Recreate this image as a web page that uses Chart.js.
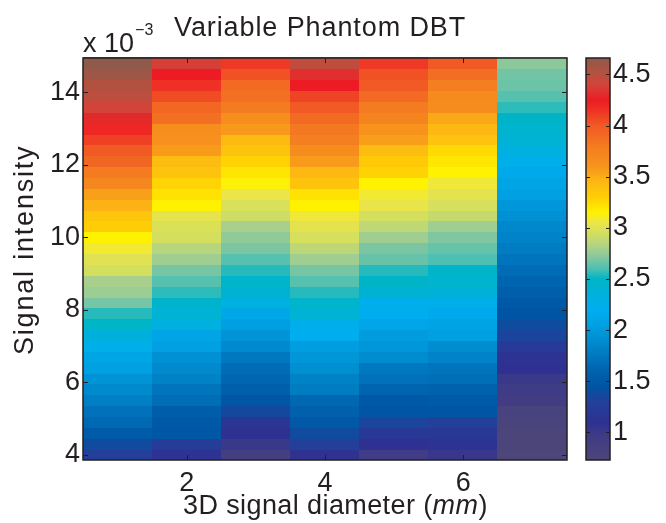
<!DOCTYPE html>
<html>
<head>
<meta charset="utf-8">
<title>Variable Phantom DBT</title>
<script src="https://cdn.jsdelivr.net/npm/chart.js@4.4.0/dist/chart.umd.min.js"></script>
<style>
  body { margin: 0; background: #fff; }
  #wrap { position: relative; width: 666px; height: 523px; }
  #wrap canvas { position: absolute; top: 0; }
</style>
</head>
<body>
<div id="wrap">
  <canvas id="map" width="648" height="523" style="left:0"></canvas>
  <canvas id="cbar" width="106" height="523" style="left:560px"></canvas>
</div>
<script>
// signal diameter (mm) and signal intensity (x 10^-3), bottom row first
const diameters = [1, 2, 3, 4, 5, 6, 7];
const intensity = [4.0, 4.3, 4.6, 4.9, 5.2, 5.5, 5.8, 6.1, 6.4, 6.7, 7.0, 7.3, 7.6,
  7.9, 8.2, 8.5, 8.8, 9.1, 9.4, 9.7, 10.0, 10.3, 10.6, 10.9, 11.2, 11.5, 11.8,
  12.1, 12.4, 12.7, 13.0, 13.3, 13.6, 13.9, 14.2, 14.5, 14.8];

// detectability per diameter, same row order as intensity
const d1 = [1.28, 1.38, 1.53, 1.65, 1.7, 1.8, 1.88, 1.95, 2.05, 2.1, 2.25, 2.35, 2.5,
  2.55, 2.68, 2.77, 2.8, 2.95, 3.0, 3.08, 3.15, 3.3, 3.35, 3.48, 3.55, 3.7, 3.8,
  3.93, 4.0, 4.1, 4.2, 4.3, 4.4, 4.48, 4.52, 4.6, 4.66];
const d2 = [1.12, 1.25, 1.48, 1.5, 1.55, 1.68, 1.72, 1.82, 1.87, 1.93, 2.05, 2.1, 2.33,
  2.4, 2.45, 2.56, 2.62, 2.68, 2.78, 2.85, 2.95, 2.98, 3.03, 3.15, 3.22, 3.27, 3.37,
  3.42, 3.57, 3.63, 3.65, 3.87, 3.92, 4.05, 4.15, 4.25, 4.38];
const d3 = [0.88, 1.0, 1.1, 1.15, 1.36, 1.47, 1.57, 1.63, 1.67, 1.75, 1.87, 1.95, 2.04,
  2.12, 2.33, 2.42, 2.47, 2.55, 2.62, 2.69, 2.74, 2.8, 2.93, 2.97, 3.05, 3.14, 3.2,
  3.28, 3.37, 3.43, 3.58, 3.65, 3.8, 3.87, 3.9, 4.03, 4.12];
const d4 = [1.08, 1.28, 1.38, 1.49, 1.58, 1.64, 1.78, 1.82, 1.92, 1.97, 2.03, 2.2, 2.25,
  2.4, 2.46, 2.55, 2.62, 2.68, 2.78, 2.87, 2.96, 3.02, 3.07, 3.15, 3.22, 3.37, 3.44,
  3.57, 3.66, 3.77, 3.82, 3.9, 4.0, 4.08, 4.25, 4.32, 4.47];
const d5 = [0.95, 1.1, 1.2, 1.33, 1.47, 1.5, 1.62, 1.7, 1.75, 1.9, 1.98, 2.02, 2.11,
  2.2, 2.22, 2.42, 2.48, 2.55, 2.65, 2.69, 2.78, 2.88, 2.95, 3.04, 3.08, 3.15, 3.28,
  3.33, 3.42, 3.56, 3.62, 3.73, 3.8, 3.9, 4.0, 4.03, 4.12];
const d6 = [1.02, 1.12, 1.18, 1.3, 1.47, 1.51, 1.6, 1.69, 1.73, 1.83, 1.9, 2.05, 2.08,
  2.15, 2.25, 2.38, 2.44, 2.47, 2.6, 2.65, 2.7, 2.78, 2.9, 2.96, 3.02, 3.07, 3.15,
  3.2, 3.25, 3.37, 3.45, 3.52, 3.66, 3.68, 3.77, 3.88, 4.0];
const d7 = [0.73, 0.75, 0.76, 0.78, 0.82, 0.92, 0.97, 1.0, 1.1, 1.12, 1.22, 1.33, 1.39,
  1.45, 1.5, 1.57, 1.62, 1.67, 1.72, 1.78, 1.83, 1.86, 1.93, 1.98, 2.05, 2.1, 2.15,
  2.25, 2.33, 2.4, 2.44, 2.48, 2.56, 2.62, 2.66, 2.67, 2.73];
const columns = [d1, d2, d3, d4, d5, d6, d7];

const xTicks = [2, 4, 6];
const yTicks = [4, 6, 8, 10, 12, 14];
const cbTicks = [1, 1.5, 2, 2.5, 3, 3.5, 4, 4.5];

// colormap: value -> colour
const colorStops = [
  [0.73, '#4d4679'], [0.95, '#403c85'], [1.1, '#2e3192'], [1.3, '#22409a'],
  [1.45, '#0054a4'], [1.6, '#0062ad'], [1.75, '#0078c0'], [1.9, '#008dd0'],
  [2.05, '#00a0e2'], [2.2, '#00aeef'], [2.35, '#00b0dc'], [2.5, '#00b5c5'],
  [2.6, '#4dc0b3'], [2.7, '#80c6a0'], [2.8, '#a8d08c'], [2.95, '#d4df5e'],
  [3.05, '#ebe548'], [3.15, '#fff200'], [3.3, '#ffcd05'], [3.45, '#fdb813'],
  [3.6, '#f7941d'], [3.8, '#f47b20'], [4.0, '#f15a24'], [4.15, '#ee3124'],
  [4.25, '#ed1c24'], [4.4, '#d2443a'], [4.5, '#b85040'], [4.66, '#8f5a4b']
];

const INK = '#231f20';
const FONT = '"Liberation Sans", Arial, Helvetica, sans-serif';

function rgb(hex) {
  const n = parseInt(hex.slice(1), 16);
  return [(n >> 16) & 255, (n >> 8) & 255, n & 255];
}

function colorFor(v) {
  if (v <= colorStops[0][0]) return colorStops[0][1];
  for (let i = 1; i < colorStops.length; i++) {
    if (v <= colorStops[i][0]) {
      const [v0, c0] = colorStops[i - 1];
      const [v1, c1] = colorStops[i];
      const t = (v - v0) / (v1 - v0);
      const a = rgb(c0), b = rgb(c1);
      const c = a.map((x, k) => Math.round(x + (b[k] - x) * t));
      return 'rgb(' + c.join(',') + ')';
    }
  }
  return colorStops[colorStops.length - 1][1];
}

const cells = [];
diameters.forEach((d, i) => {
  intensity.forEach((s, j) => cells.push({ x: d, y: s, v: columns[i][j] }));
});
const allValues = columns.flat();
const vMin = Math.min(...allValues);
const vMax = Math.max(...allValues);

// each cell spans one diameter step and one intensity step
const heatmap = {
  id: 'heatmap',
  beforeDatasetsDraw(chart) {
    const { ctx, scales: { x, y } } = chart;
    const rows = chart.data.datasets[0].data;
    ctx.save();
    rows.forEach(c => {
      const x0 = Math.floor(x.getPixelForValue(c.x - 0.5));
      const x1 = Math.ceil(x.getPixelForValue(c.x + 0.5));
      const y0 = Math.floor(y.getPixelForValue(c.y + 0.15));
      const y1 = Math.ceil(y.getPixelForValue(c.y - 0.15));
      ctx.fillStyle = colorFor(c.v);
      ctx.fillRect(x0, y0, x1 - x0, y1 - y0);
    });
    ctx.restore();
  }
};

// box with inward ticks on all four sides
function drawBox(chart, xt, yt, len) {
  const { ctx, chartArea: a, scales } = chart;
  ctx.save();
  ctx.strokeStyle = INK;
  ctx.lineWidth = 1.5;
  ctx.strokeRect(a.left, a.top, a.right - a.left, a.bottom - a.top);
  ctx.lineWidth = 1;
  ctx.beginPath();
  xt.forEach(t => {
    const px = Math.round(scales.x.getPixelForValue(t)) + 0.5;
    ctx.moveTo(px, a.bottom); ctx.lineTo(px, a.bottom - len);
    ctx.moveTo(px, a.top); ctx.lineTo(px, a.top + len);
  });
  yt.forEach(t => {
    const py = Math.round(scales.y.getPixelForValue(t)) + 0.5;
    ctx.moveTo(a.left, py); ctx.lineTo(a.left + len, py);
    ctx.moveTo(a.right, py); ctx.lineTo(a.right - len, py);
  });
  ctx.stroke();
  ctx.restore();
}

function spaced(ctx, text, x, y, size, spacing, style) {
  ctx.font = (style || '') + size + 'px ' + FONT;
  ctx.letterSpacing = spacing + 'px';
  ctx.fillText(text, x, y);
  const w = ctx.measureText(text).width;
  ctx.letterSpacing = '0px';
  return w;
}

const frame = {
  id: 'frame',
  afterDraw(chart) {
    const { ctx, chartArea: a } = chart;
    drawBox(chart, xTicks, yTicks, 5);
    ctx.save();
    ctx.fillStyle = INK;
    ctx.textBaseline = 'alphabetic';
    ctx.textAlign = 'left';
    // title
    spaced(ctx, 'Variable Phantom DBT', 174, 36, 27, 0.9);
    // exponent of the y axis
    const w = spaced(ctx, 'x 10', a.left, 52, 27, 0);
    spaced(ctx, '\u22123', a.left + w + 1, 35, 16, 0);
    // x axis title with italic unit
    let px = 183;
    px += spaced(ctx, '3D signal diameter (', px, 514, 27, 0.4);
    px += spaced(ctx, 'mm', px, 514, 27, 0.4, 'italic ');
    spaced(ctx, ')', px, 514, 27, 0.4);
    // y axis title
    ctx.translate(33, 355);
    ctx.rotate(-Math.PI / 2);
    spaced(ctx, 'Signal intensity', 0, 0, 27, 1.8);
    ctx.restore();
  }
};

const tickFont = { family: FONT, size: 27 };

new Chart(document.getElementById('map'), {
  type: 'scatter',
  data: {
    datasets: [{ data: cells, pointRadius: 0, pointHoverRadius: 0 }]
  },
  options: {
    responsive: false,
    animation: false,
    events: [],
    layout: { padding: { top: 58, left: 0, right: 81, bottom: 0 } },
    plugins: { legend: { display: false }, tooltip: { enabled: false } },
    scales: {
      x: {
        type: 'linear', min: 0.5, max: 7.5,
        grid: { display: false, drawTicks: false }, border: { display: false },
        ticks: { font: tickFont, color: INK, padding: 7, maxRotation: 0 },
        afterBuildTicks: s => { s.ticks = xTicks.map(v => ({ value: v })); },
        afterFit: s => { s.height = 63; }
      },
      y: {
        type: 'linear', min: 3.85, max: 14.95,
        grid: { display: false, drawTicks: false }, border: { display: false },
        ticks: { font: tickFont, color: INK, padding: 3 },
        afterBuildTicks: s => { s.ticks = yTicks.map(v => ({ value: v })); },
        afterFit: s => { s.width = 83; }
      }
    }
  },
  plugins: [heatmap, frame]
});

// colour bar
const colorbar = {
  id: 'colorbar',
  beforeDatasetsDraw(chart) {
    const { ctx, chartArea: a, scales: { y } } = chart;
    ctx.save();
    for (let py = Math.floor(a.top); py < a.bottom; py++) {
      ctx.fillStyle = colorFor(y.getValueForPixel(py + 0.5));
      ctx.fillRect(a.left, py, a.right - a.left, 1);
    }
    ctx.restore();
  },
  afterDraw(chart) {
    drawBox(chart, [], cbTicks, 4);
  }
};

new Chart(document.getElementById('cbar'), {
  type: 'scatter',
  data: { datasets: [{ data: [], pointRadius: 0 }] },
  options: {
    responsive: false,
    animation: false,
    events: [],
    layout: { padding: { top: 58, left: 26, right: 0, bottom: 63 } },
    plugins: { legend: { display: false }, tooltip: { enabled: false } },
    scales: {
      x: { type: 'linear', min: 0, max: 1, display: false },
      y: {
        type: 'linear', position: 'right', min: vMin, max: vMax,
        grid: { display: false, drawTicks: false }, border: { display: false },
        ticks: { font: tickFont, color: INK, padding: 3, callback: v => String(v) },
        afterBuildTicks: s => { s.ticks = cbTicks.map(v => ({ value: v })); },
        afterFit: s => { s.width = 56; }
      }
    }
  },
  plugins: [colorbar]
});
</script>
</body>
</html>
